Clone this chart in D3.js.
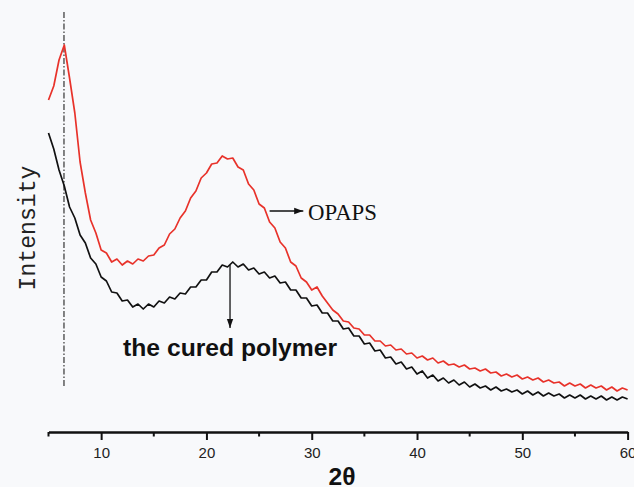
<!DOCTYPE html>
<html>
<head>
<meta charset="utf-8">
<script src="https://cdn.jsdelivr.net/npm/d3@7"></script>
<style>
  body { margin: 0; background: #f8f9fb; }
  svg { display: block; }
</style>
</head>
<body>
<script>
// XRD patterns, 2theta from 5 to 60 in steps of 0.5, intensity in a.u.
var twoTheta = d3.range(0, 111).map(function(i) { return 5 + i * 0.5; });

var opaps = [
  340, 354, 380, 395, 362, 327, 278, 247, 220, 207,
  190, 187, 178, 181, 175, 179, 176, 181, 179, 184,
  185, 192, 195, 206, 211, 222, 229, 242, 249, 262,
  267, 276, 277, 284, 281, 282, 273, 270, 256, 250,
  236, 232, 218, 212, 198, 192, 178, 174, 162, 158,
  150, 153, 144, 137, 130, 126, 119, 118, 112, 111,
  105, 105, 99, 99, 94, 95, 90, 91, 86, 87,
  82, 84, 80, 82, 77, 79, 75, 76, 73, 75,
  71, 72, 69, 71, 67, 68, 64, 66, 63, 65,
  61, 63, 60, 62, 58, 60, 57, 58, 54, 57,
  54, 56, 52, 55, 52, 54, 50, 53, 49, 52,
  50
];

var cured = [
  307, 291, 270, 254, 233, 222, 205, 197, 182, 176,
  163, 159, 148, 147, 139, 140, 133, 136, 131, 136,
  133, 139, 137, 143, 141, 147, 146, 153, 153, 160,
  160, 168, 168, 175, 173, 178, 173, 176, 170, 172,
  166, 168, 162, 164, 157, 158, 150, 150, 142, 142,
  134, 135, 127, 127, 119, 119, 111, 112, 104, 104,
  96, 97, 89, 90, 82, 83, 76, 78, 71, 73,
  66, 69, 62, 65, 59, 62, 57, 60, 55, 58,
  53, 56, 52, 54, 50, 53, 49, 51, 48, 50,
  46, 49, 45, 48, 44, 47, 44, 46, 42, 45,
  42, 45, 41, 44, 41, 44, 40, 43, 40, 43,
  41
];

var majorTicks = [10, 20, 30, 40, 50, 60];
var minorTicks = [5, 15, 25, 35, 45, 55];
var peakLine = 6.47;

var W = 634, H = 487;
var margin = { top: 0, right: 6.4, bottom: 55, left: 48.5 };

var svg = d3.select("body").append("svg")
    .attr("width", W)
    .attr("height", H);

var x = d3.scaleLinear()
    .domain([5, 60])
    .range([margin.left, W - margin.right]);

var y = d3.scaleLinear()
    .domain([0, 440])
    .range([440, 0]);

var axisY = H - margin.bottom; // ~432

// dash-dot reference line at the low angle peak
svg.append("line")
    .attr("x1", x(peakLine)).attr("x2", x(peakLine))
    .attr("y1", y(428)).attr("y2", y(52))
    .attr("stroke", "#333")
    .attr("stroke-width", 1.2)
    .attr("stroke-dasharray", "6,2,1.5,2");

var line = d3.line()
    .x(function(d) { return x(d[0]); })
    .y(function(d) { return y(d[1]); });

svg.append("path")
    .datum(d3.zip(twoTheta, cured))
    .attr("fill", "none")
    .attr("stroke", "#111")
    .attr("stroke-width", 1.7)
    .attr("stroke-linejoin", "round")
    .attr("d", line);

svg.append("path")
    .datum(d3.zip(twoTheta, opaps))
    .attr("fill", "none")
    .attr("stroke", "#e8322a")
    .attr("stroke-width", 1.7)
    .attr("stroke-linejoin", "round")
    .attr("d", line);

// x axis: labelled major ticks and small minor ticks
var gx = svg.append("g")
    .attr("transform", "translate(0," + axisY + ")");

gx.call(d3.axisBottom(x)
        .tickValues(majorTicks)
        .tickSize(8)
        .tickPadding(7)
        .tickSizeOuter(0))
    .call(function(g) {
        g.select(".domain").attr("stroke", "#111").attr("stroke-width", 2.4);
        g.selectAll(".tick line").attr("stroke", "#111").attr("stroke-width", 2);
        g.selectAll(".tick text")
            .attr("fill", "#222")
            .style("font-family", "'Liberation Sans', Arial, sans-serif")
            .style("font-size", "15px");
    });

gx.selectAll(".minor")
    .data(minorTicks)
    .enter().append("line")
    .attr("class", "minor")
    .attr("x1", function(d) { return x(d); })
    .attr("x2", function(d) { return x(d); })
    .attr("y1", 0).attr("y2", 4.5)
    .attr("stroke", "#111")
    .attr("stroke-width", 2);

// axis titles
svg.append("text")
    .attr("x", 342)
    .attr("y", 485)
    .attr("text-anchor", "middle")
    .attr("textLength", 27)
    .attr("lengthAdjust", "spacingAndGlyphs")
    .style("font-family", "'Liberation Sans', Arial, sans-serif")
    .style("font-weight", "bold")
    .style("font-size", "24px")
    .attr("fill", "#111")
    .text("2θ");

svg.append("text")
    .attr("transform", "translate(35," + 228 + ") rotate(-90)")
    .attr("text-anchor", "middle")
    .attr("textLength", 125)
    .attr("lengthAdjust", "spacingAndGlyphs")
    .style("font-family", "'Liberation Mono', 'Courier New', monospace")
    .style("font-size", "23px")
    .attr("fill", "#222")
    .text("Intensity");

// annotations
svg.append("defs").append("marker")
    .attr("id", "arrow")
    .attr("viewBox", "0 0 10 10")
    .attr("refX", 10).attr("refY", 5)
    .attr("markerWidth", 7).attr("markerHeight", 7)
    .attr("orient", "auto")
    .append("path")
    .attr("d", "M0,1.5 L10,5 L0,8.5 Z")
    .attr("fill", "#111");

svg.append("line")
    .attr("x1", x(26.0)).attr("x2", x(29.2))
    .attr("y1", y(229)).attr("y2", y(229))
    .attr("stroke", "#111").attr("stroke-width", 1.3)
    .attr("marker-end", "url(#arrow)");

svg.append("text")
    .attr("x", x(29.65))
    .attr("y", y(229) + 8.5)
    .attr("textLength", 69)
    .attr("lengthAdjust", "spacingAndGlyphs")
    .style("font-family", "'Liberation Serif', 'Times New Roman', serif")
    .style("font-size", "24px")
    .attr("fill", "#111")
    .text("OPAPS");

svg.append("line")
    .attr("x1", x(22.24)).attr("x2", x(22.24))
    .attr("y1", y(175)).attr("y2", y(112))
    .attr("stroke", "#111").attr("stroke-width", 1.3)
    .attr("marker-end", "url(#arrow)");

svg.append("text")
    .attr("x", x(22.24))
    .attr("y", y(84))
    .attr("text-anchor", "middle")
    .attr("textLength", 214)
    .attr("lengthAdjust", "spacingAndGlyphs")
    .style("font-family", "'Liberation Sans', Arial, sans-serif")
    .style("font-weight", "bold")
    .style("font-size", "23px")
    .attr("fill", "#111")
    .text("the cured polymer");
</script>
</body>
</html>
